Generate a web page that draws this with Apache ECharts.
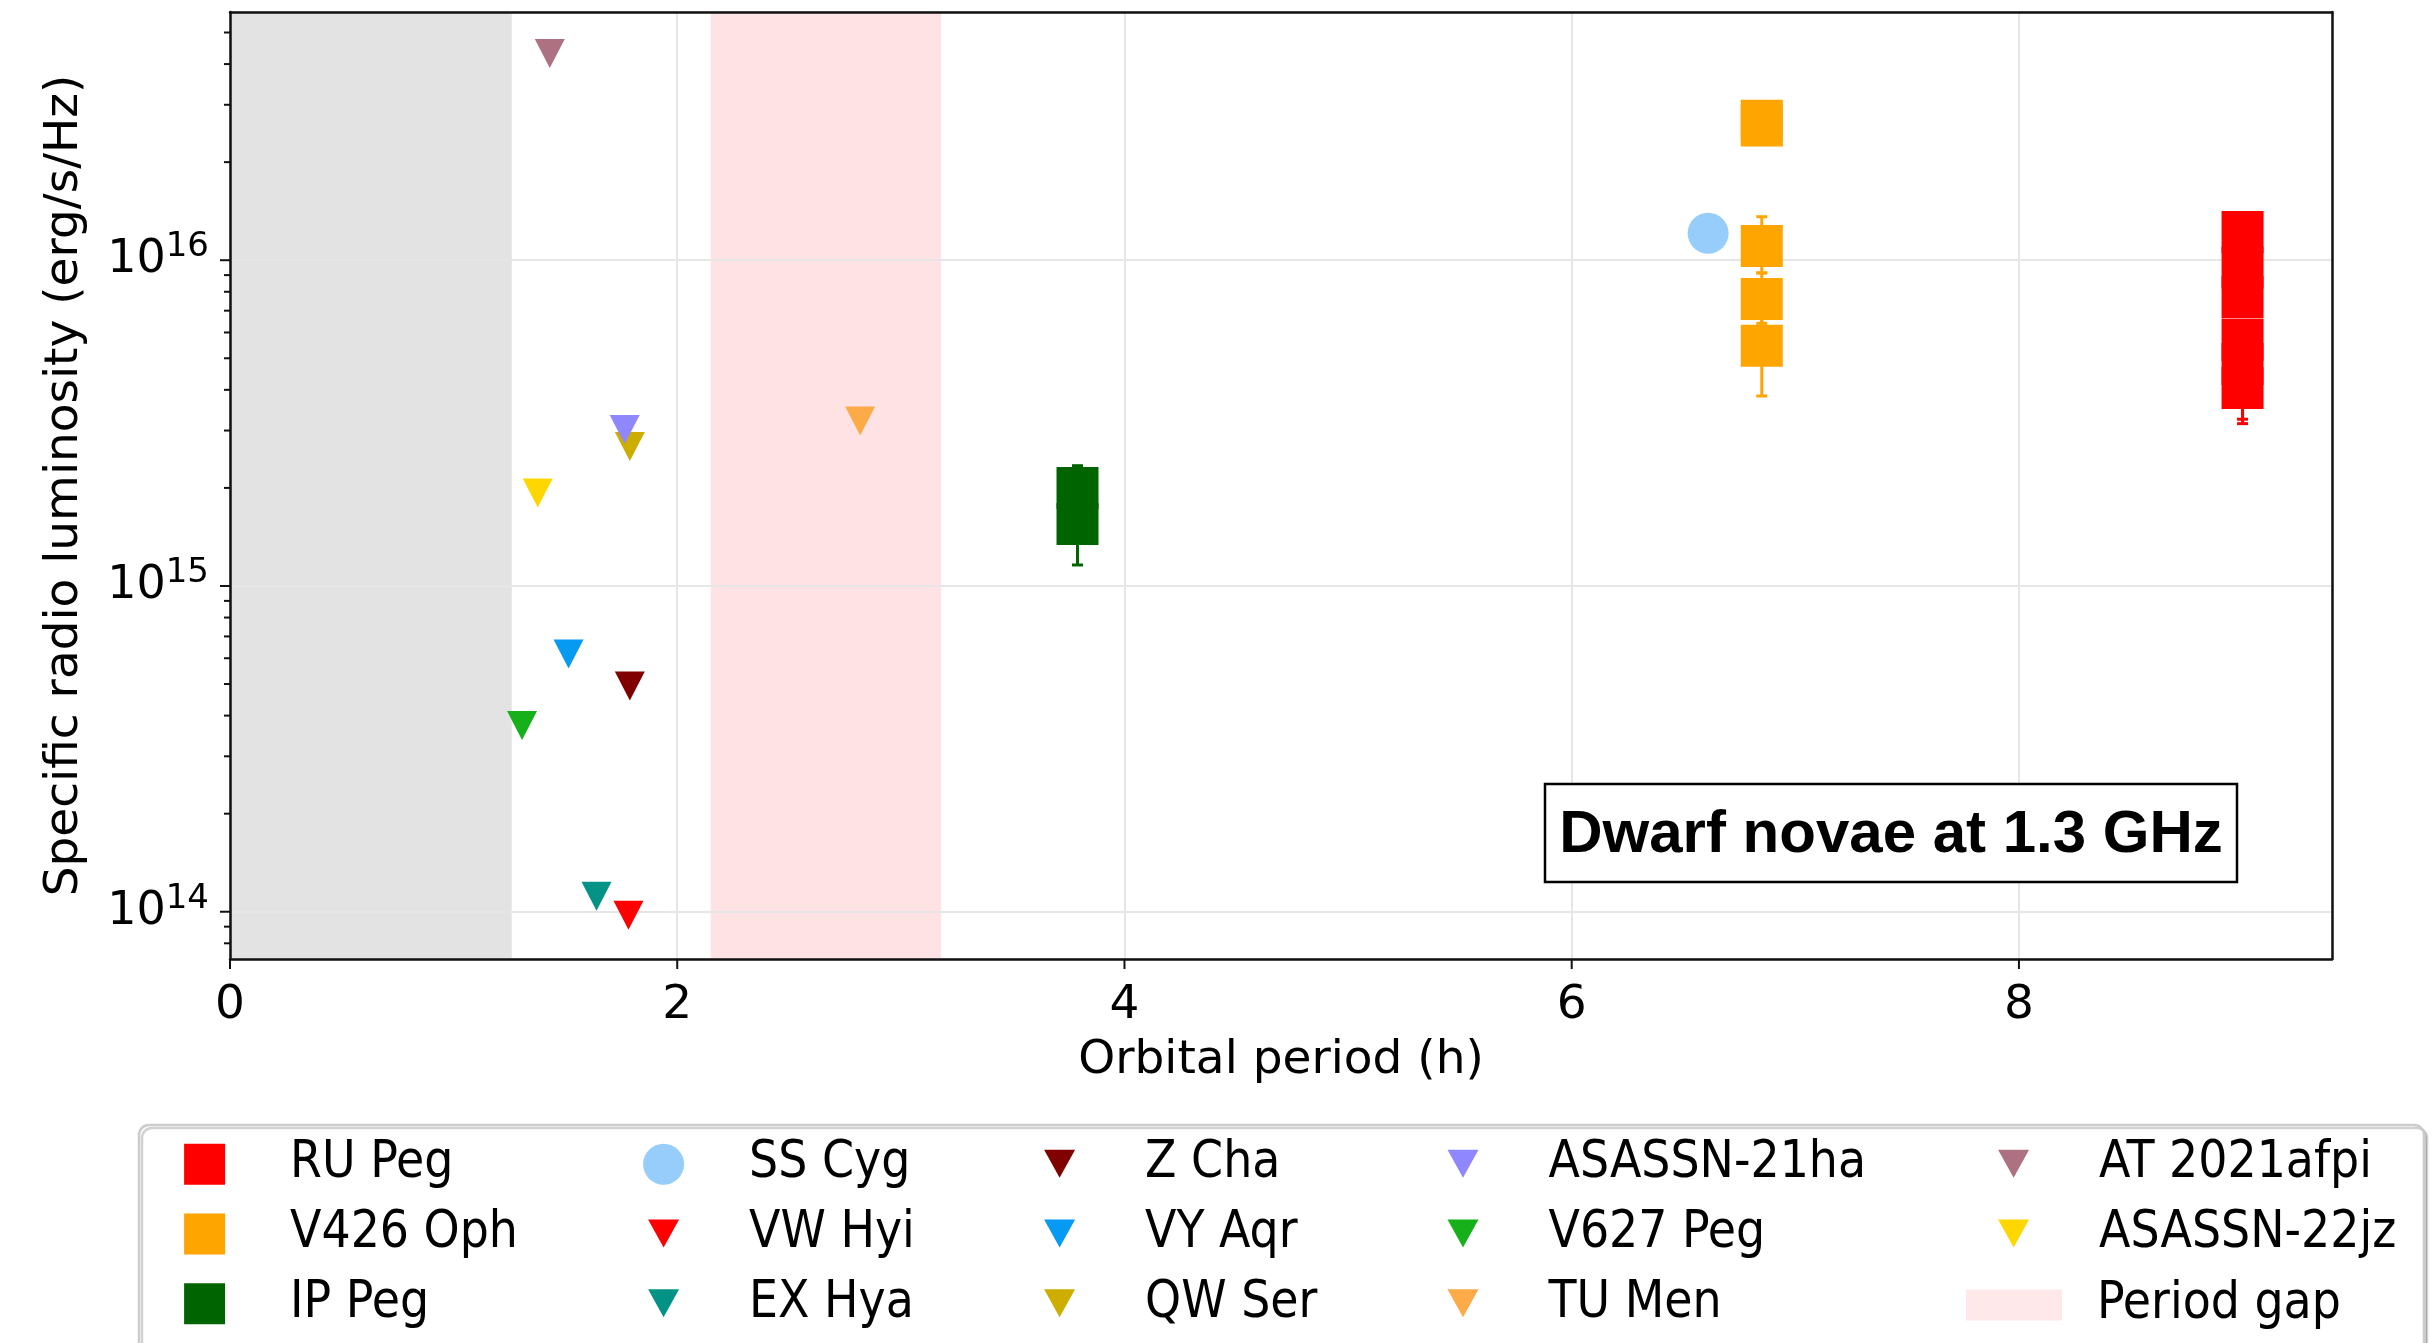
<!DOCTYPE html>
<html>
<head>
<meta charset="utf-8">
<title>Dwarf novae at 1.3 GHz</title>
<script src="https://cdn.jsdelivr.net/npm/echarts@6/dist/echarts.min.js"></script>
<style>
  html, body { margin: 0; padding: 0; background: #fff; }
  #chart { width: 2434px; height: 1343px; }
</style>
</head>
<body>
<div id="chart"></div>
<script>
// ---- axis ranges (orbital period in hours, luminosity in erg/s/Hz) ----
const X_RANGE = [0, 9.4];
const Y_RANGE = [7.16e13, 5.78e16];
const X_TICKS = [0, 2, 4, 6, 8];
const Y_TICKS = [1e14, 1e15, 1e16];

// shaded period bands (h)
const BELOW_MINIMUM = [0, 1.26];
const PERIOD_GAP = [2.15, 3.18];

// detections: [period, L, L_low, L_high]
const RU_PEG = [
  [9.00, 1.22e16, 1.10e16, 1.33e16],
  [9.00, 9.5e15, 8.5e15, 1.06e16],
  [9.00, 7.7e15, 6.9e15, 8.6e15],
  [9.00, 5.7e15, 5.1e15, 6.4e15],
  [9.00, 4.8e15, 3.25e15, 5.4e15],
  [9.00, 4.05e15, 3.15e15, 4.6e15]
];
const V426_OPH = [
  [6.85, 2.68e16, 2.50e16, 2.85e16],
  [6.85, 2.59e16, 2.45e16, 2.75e16],
  [6.85, 1.106e16, 9.14e15, 1.36e16],
  [6.85, 7.60e15, 6.4e15, 9.14e15],
  [6.85, 5.46e15, 3.83e15, 7.0e15]
];
const IP_PEG = [
  [3.79, 2.00e15, 1.75e15, 2.34e15],
  [3.79, 1.55e15, 1.16e15, 1.80e15]
];
const SS_CYG = [[6.61, 1.21e16]];

// upper limits: [period, L]
const Z_CHA = [[1.788, 4.93e14]];
const VW_HYI = [[1.782, 9.75e13]];
const VY_AQR = [[1.514, 6.18e14]];
const EX_HYA = [[1.639, 1.115e14]];
const QW_SER = [[1.788, 2.68e15]];
const ASASSN_21HA = [[1.765, 3.02e15]];
const V627_PEG = [[1.306, 3.73e14]];
const TU_MEN = [[2.818, 3.21e15]];
const AT_2021AFPI = [[1.430, 4.31e16]];
const ASASSN_22JZ = [[1.376, 1.93e15]];

const COLORS = {
  'RU Peg': '#ff0000', 'V426 Oph': '#ffa500', 'IP Peg': '#006400', 'SS Cyg': '#97cdfa',
  'Z Cha': '#800000', 'VW Hyi': '#ff0000', 'VY Aqr': '#069af3', 'EX Hya': '#029386',
  'QW Ser': '#ccad00', 'ASASSN-21ha': '#8e87fd', 'V627 Peg': '#15b01a', 'TU Men': '#fdaa48',
  'AT 2021afpi': '#ae7181', 'ASASSN-22jz': '#ffd700', 'Period gap': '#fee2e4'
};

const FONT = 'DejaVu Sans';
const LEGEND_FONT = "'DejaVu Sans Condensed', 'DejaVu Sans', sans-serif";

// minor ticks of the log axis: 2..9 times each decade inside the range
const Y_MINOR = [];
for (let e = 13; e <= 16; e++) {
  for (let m = 2; m <= 9; m++) {
    const v = m * Math.pow(10, e);
    if (v > Y_RANGE[0] && v < Y_RANGE[1]) Y_MINOR.push(v);
  }
}

const chart = echarts.init(document.getElementById('chart'), null, { renderer: 'canvas' });

function errorBars(color) {
  return function (params, api) {
    const x = api.value(0);
    const lo = api.coord([x, api.value(2)]);
    const hi = api.coord([x, api.value(3)]);
    const cap = 5.5;
    const st = { stroke: color, lineWidth: 3 };
    return {
      type: 'group',
      children: [
        { type: 'line', shape: { x1: lo[0], y1: lo[1], x2: hi[0], y2: hi[1] }, style: st },
        { type: 'line', shape: { x1: lo[0] - cap, y1: lo[1], x2: lo[0] + cap, y2: lo[1] }, style: st },
        { type: 'line', shape: { x1: hi[0] - cap, y1: hi[1], x2: hi[0] + cap, y2: hi[1] }, style: st }
      ]
    };
  };
}

function detection(name, data, symbol, size) {
  return [
    {
      name: name + ' errors', type: 'custom', z: 2,
      data: data.map(d => d.slice()),
      encode: { x: 0, y: [1, 2, 3] },
      renderItem: errorBars(COLORS[name]),
      silent: true
    },
    {
      name: name, type: 'scatter', z: 3,
      data: data.map(d => [d[0], d[1]]),
      symbol: symbol, symbolSize: size,
      itemStyle: { color: COLORS[name], opacity: 1 },
      silent: true
    }
  ];
}

function upperLimit(name, data) {
  return {
    name: name, type: 'scatter', z: 3,
    data: data,
    symbol: 'triangle', symbolRotate: 180, symbolSize: [30, 29],
    itemStyle: { color: COLORS[name], opacity: 1 },
    silent: true
  };
}

function tickSeries(values, len, vertical) {
  return {
    name: 'ticks', type: 'custom', z: 1.7, silent: true,
    data: values.map(v => vertical ? [X_RANGE[0], v] : [v, Y_RANGE[0]]),
    encode: { x: 0, y: 1 },
    renderItem: function (params, api) {
      const p = api.coord([api.value(0), api.value(1)]);
      const shape = vertical
        ? { x1: p[0] - len, y1: p[1], x2: p[0], y2: p[1] }
        : { x1: p[0], y1: p[1], x2: p[0], y2: p[1] + len };
      return { type: 'line', shape: shape, style: { stroke: '#111', lineWidth: 2 } };
    }
  };
}

const SQUARE = 'path://M0,0H41V41H0Z';
const TRI = 'path://M0,0M41,41M5,6H36L20.5,34Z';
const PATCH = 'path://M0,0H96V31H0Z';

const LEGEND_COLUMNS = [
  { left: 184.1, items: [['RU Peg', SQUARE], ['V426 Oph', SQUARE], ['IP Peg', SQUARE]] },
  { left: 643.1, items: [['SS Cyg', 'circle'], ['VW Hyi', TRI], ['EX Hya', TRI]] },
  { left: 1039.1, items: [['Z Cha', TRI], ['VY Aqr', TRI], ['QW Ser', TRI]] },
  { left: 1442.5, items: [['ASASSN-21ha', TRI], ['V627 Peg', TRI], ['TU Men', TRI]] },
  { left: 1993.1, items: [['AT 2021afpi', TRI], ['ASASSN-22jz', TRI]] }
];

const legendText = {
  fontFamily: LEGEND_FONT, fontSize: 51, color: '#000', padding: [0, 0, 0, 60]
};

const legends = LEGEND_COLUMNS.map(col => ({
  orient: 'vertical',
  left: col.left, top: 1138.7, height: 260,
  padding: 0,
  itemWidth: 41, itemHeight: 41, itemGap: 18.8,
  selectedMode: false,
  symbolKeepAspect: true,
  textStyle: legendText,
  data: col.items.map(([name, icon]) => ({ name: name, icon: icon, symbolRotate: 0 }))
}));
legends.push({
  orient: 'vertical',
  left: 1966, top: 1279.5, height: 100,
  padding: 0,
  itemWidth: 96, itemHeight: 31,
  selectedMode: false,
  textStyle: Object.assign({}, legendText, { padding: [0, 0, 0, 30] }),
  data: [{ name: 'Period gap', icon: PATCH }]
});

const borderAxis = {
  axisLine: { show: true, onZero: false, lineStyle: { color: '#111', width: 2.5 } },
  axisTick: { show: false }, axisLabel: { show: false }, splitLine: { show: false }, z: 1.6
};
const gridLine = { show: true, lineStyle: { color: '#e6e6e6', width: 2 } };

const option = {
  animation: false,
  backgroundColor: '#fff',
  grid: { left: 230, top: 12, width: 2102, height: 947, show: false },
  xAxis: [
    {
      type: 'value', min: X_RANGE[0], max: X_RANGE[1], interval: 2, z: 1.5,
      axisLine: { show: false }, axisTick: { show: false },
      axisLabel: { showMaxLabel: false, fontFamily: FONT, fontSize: 47, color: '#000', margin: 23 },
      splitLine: gridLine,
      name: 'Orbital period (h)', nameLocation: 'middle', nameGap: 78,
      nameTextStyle: { fontFamily: FONT, fontSize: 47, color: '#000' }
    },
    Object.assign({ type: 'value', position: 'bottom', min: X_RANGE[0], max: X_RANGE[1] }, borderAxis),
    Object.assign({ type: 'value', position: 'top', min: X_RANGE[0], max: X_RANGE[1] }, borderAxis)
  ],
  yAxis: [
    {
      type: 'log', logBase: 10, min: Y_RANGE[0], max: Y_RANGE[1], z: 1.5,
      axisLine: { show: false }, axisTick: { show: false },
      axisLabel: {
        margin: 21,
        formatter: function (v) {
          const e = Math.log10(v);
          const r = Math.round(e);
          if (Math.abs(e - r) > 1e-6 || Y_TICKS.indexOf(Math.pow(10, r)) < 0) return '';
          return '{b|10}{s|' + r + '}';
        },
        rich: {
          b: { fontFamily: FONT, fontSize: 46, color: '#000', lineHeight: 60 },
          s: { fontFamily: FONT, fontSize: 34, color: '#000', lineHeight: 34, verticalAlign: 'top' }
        }
      },
      splitLine: gridLine,
      name: 'Specific radio luminosity (erg/s/Hz)', nameLocation: 'middle', nameGap: 142,
      nameTextStyle: { fontFamily: FONT, fontSize: 47, color: '#000' }
    },
    Object.assign({ type: 'log', position: 'left', min: Y_RANGE[0], max: Y_RANGE[1] }, borderAxis),
    Object.assign({ type: 'log', position: 'right', min: Y_RANGE[0], max: Y_RANGE[1] }, borderAxis)
  ],
  legend: legends,
  graphic: [
    {
      type: 'rect', z: 0,
      shape: { x: 139, y: 1125, width: 2285, height: 260, r: 10 },
      style: { fill: '#fff', stroke: '#cccccc', lineWidth: 2.5,
               shadowColor: 'rgba(0,0,0,0.18)', shadowOffsetX: 3, shadowOffsetY: 3, shadowBlur: 0 }
    },
    {
      type: 'rect', z: 10,
      shape: { x: 1545, y: 784, width: 692, height: 98 },
      style: { fill: '#fff', stroke: '#000', lineWidth: 2.5 }
    },
    {
      type: 'text', z: 11, x: 1891, y: 835.6,
      style: { text: 'Dwarf novae at 1.3 GHz', font: 'bold 60px "Liberation Sans", Arial, sans-serif',
               fill: '#000', align: 'center', verticalAlign: 'middle' }
    }
  ],
  series: [
    {
      name: 'Below period minimum', type: 'scatter', data: [], z: 1,
      markArea: { silent: true, z: 1, itemStyle: { color: '#e3e3e3' },
                  data: [[{ xAxis: BELOW_MINIMUM[0] }, { xAxis: BELOW_MINIMUM[1] }]] }
    },
    {
      name: 'Period gap', type: 'scatter', data: [], z: 1,
      itemStyle: { color: COLORS['Period gap'] },
      markArea: { silent: true, z: 1, itemStyle: { color: COLORS['Period gap'] },
                  data: [[{ xAxis: PERIOD_GAP[0] }, { xAxis: PERIOD_GAP[1] }]] }
    },
    ...detection('RU Peg', RU_PEG, 'rect', 42),
    ...detection('V426 Oph', V426_OPH, 'rect', 42),
    ...detection('IP Peg', IP_PEG, 'rect', 42),
    {
      name: 'SS Cyg', type: 'scatter', z: 3, data: SS_CYG,
      symbol: 'circle', symbolSize: 41,
      itemStyle: { color: COLORS['SS Cyg'], opacity: 1 }, silent: true
    },
    upperLimit('Z Cha', Z_CHA),
    upperLimit('VW Hyi', VW_HYI),
    upperLimit('VY Aqr', VY_AQR),
    upperLimit('EX Hya', EX_HYA),
    upperLimit('QW Ser', QW_SER),
    upperLimit('ASASSN-21ha', ASASSN_21HA),
    upperLimit('V627 Peg', V627_PEG),
    upperLimit('TU Men', TU_MEN),
    upperLimit('AT 2021afpi', AT_2021AFPI),
    upperLimit('ASASSN-22jz', ASASSN_22JZ),
    tickSeries(Y_TICKS, 10, true),
    tickSeries(Y_MINOR, 6, true),
    tickSeries(X_TICKS, 10, false)
  ]
};

chart.setOption(option);
</script>
</body>
</html>
